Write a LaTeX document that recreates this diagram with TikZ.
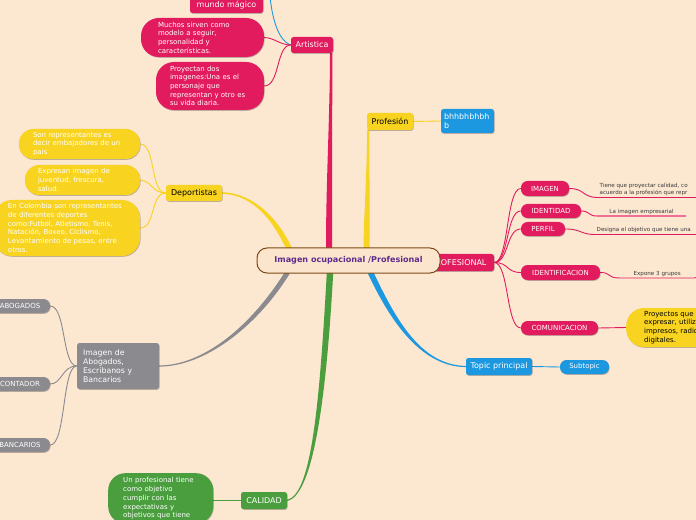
\documentclass[tikz,border=0pt]{standalone}
\usepackage{fontspec}
\setmainfont{DejaVu Sans}
\usetikzlibrary{calc,shadows}
\definecolor{bg}{HTML}{FCE7D1}
\definecolor{mpink}{HTML}{E21B5E}
\definecolor{lpink}{HTML}{EE6E95}
\definecolor{myel}{HTML}{F8D320}
\definecolor{mblue}{HTML}{1C98E1}
\definecolor{mgreen}{HTML}{4A9E3E}
\definecolor{mgray}{HTML}{8B8B8F}
\definecolor{brownb}{HTML}{7A4A18}
\definecolor{cfill}{HTML}{FCE5CD}
\definecolor{purp}{HTML}{5E2C8C}
\definecolor{leaftxt}{HTML}{3A3A3A}
\pgfdeclarelayer{back}
\pgfdeclarelayer{lines}
\pgfsetlayers{back,lines,main}
% tapered branch: #1 colour, #2 start, #3 ctrl1, #4 ctrl2, #5 end, #6 half width at start, #7 half width at end
\newcommand\taperline[7]{%
  \path (#2) coordinate (tA) (#3) coordinate (tC1) (#4) coordinate (tC2) (#5) coordinate (tB);
  \path ($(tA)!#6!90:(tC1)$) coordinate (tAp) ($(tA)!#6!-90:(tC1)$) coordinate (tAm)
        ($(tB)!#7!-90:(tC2)$) coordinate (tBp) ($(tB)!#7!90:(tC2)$) coordinate (tBm);
  \fill[#1] (tAp) .. controls ($(tC1)+(tAp)-(tA)$) and ($(tC2)+(tBp)-(tB)$) .. (tBp)
     -- (tBm) .. controls ($(tC2)+(tBm)-(tB)$) and ($(tC1)+(tAm)-(tA)$) .. (tAm) -- cycle;
}
\tikzset{
  shad/.style={drop shadow={shadow xshift=0.6pt, shadow yshift=-0.8pt, opacity=0.25, fill=black}},
  topic/.style={rectangle, rounded corners=2.5bp, inner sep=0pt, text=white, font=\fontsize{8}{9.5}\selectfont, shad},
  pill/.style={rectangle, rounded corners=6.5bp, inner sep=0pt, text=white, font=\fontsize{7}{8}\selectfont, shad},
  bubble/.style={rectangle, rounded corners=14bp, inner ysep=0pt, align=left, text=white, font=\fontsize{7}{8.7}\selectfont, shad},
  leaf/.style={inner xsep=1.5bp, inner ysep=1.5bp, align=left, text=leaftxt, font=\fontsize{5.6}{7}\selectfont},
  thinline/.style={line width=0.9bp},
}
\begin{document}
\begin{tikzpicture}[x=1bp,y=-1bp]
\useasboundingbox (0,0) rectangle (696,520);
\begin{pgfonlayer}{back}
\fill[bg] (0,0) rectangle (696,520);
\end{pgfonlayer}
\clip (0,0) rectangle (696,520);

% ---------- Artistica ----------
\node[topic, fill=mpink, minimum width=42bp, minimum height=16bp] (art) at (312,45) {Artistica};
\node[topic, fill=mpink, minimum width=73bp, minimum height=16bp] (mundo) at (226.5,5) {mundo mágico};
\node[bubble, fill=mpink, minimum height=39bp, inner xsep=17bp, text width=89bp, rounded corners=18bp] (muchos) at (202.5,37.5)
  {Muchos sirven como\\modelo a seguir,\\personalidad y\\características.};
\node[bubble, fill=mpink, minimum height=48bp, inner xsep=14bp, text width=80bp, rounded corners=18bp] (proy) at (210,86)
  {Proyectan dos\\imagenes:Una es el\\personaje que\\representan y otro es\\su vida diaria.};
\coordinate (mtop) at (270,-3);

% ---------- Deportistas ----------
\node[topic, fill=myel, text=black, minimum width=56bp, minimum height=16bp] (dep) at (194,193) {Deportistas};
\node[bubble, fill=myel, minimum height=30bp, inner xsep=14bp, text width=93bp] (son) at (79.5,144)
  {Son representantes es\\decir embajadores de un\\pais};
\node[bubble, fill=myel, minimum height=30bp, inner xsep=13bp, text width=89bp] (expr) at (82.5,180)
  {Expresan imagen de\\juventud, frescura,\\salud.};
\node[bubble, fill=myel, minimum height=56bp, inner xsep=14bp, text width=118bp, rounded corners=18bp] (colo) at (67,228)
  {En Colombia son representantes\\de diferentes deportes\\como:Futbol, Atletismo, Tenis,\\Natación, Boxeo, Ciclismo,\\Levantamiento de pesas, entre\\otros.};

% ---------- Profesion ----------
\node[topic, fill=myel, text=black, minimum width=46bp, minimum height=17bp] (prof) at (390,121.5) {Profesión};
\node[topic, fill=mblue, align=left, inner xsep=3bp, text width=47bp, minimum height=24bp] (bhh) at (467.5,121) {bhhbhbhbh\\b};

% ---------- PROFESIONAL ----------
\node[topic, fill=mpink, minimum width=71bp, minimum height=17bp] (pro) at (458.5,262.5) {PROFESIONAL};
\node[pill, fill=mpink, minimum width=48bp, minimum height=15bp] (img) at (545,188.5) {IMAGEN};
\node[pill, fill=mpink, minimum width=60bp, minimum height=14bp] (ident) at (551,211) {IDENTIDAD};
\node[pill, fill=mpink, minimum width=44bp, minimum height=14bp] (perf) at (543,229) {PERFIL};
\node[pill, fill=mpink, minimum width=79bp, minimum height=15bp] (idf) at (560.5,272.5) {IDENTIFICACION};
\node[pill, fill=mpink, minimum width=77bp, minimum height=14bp] (comu) at (559.5,328) {COMUNICACION};
\node[leaf, anchor=south west] (l1) at (598,197.5) {Tiene que proyectar calidad, co\\acuerdo a la profesión que repr};
\node[leaf, anchor=south, minimum width=89bp] (l2) at (641.5,216) {La imagen empresarial};
\node[leaf, anchor=south west] (l3) at (595,234.5) {Designa el objetivo que tiene una};
\node[leaf, anchor=south west, minimum width=74bp] (l4) at (620,278) {Expone 3 grupos};
\node[bubble, fill=myel, text=black, minimum height=39bp, inner xsep=18bp, text width=80bp, anchor=west, rounded corners=18bp] (comc) at (626,327.5)
  {Proyectos que\\expresar, utiliz\\impresos, radio\\digitales.};

% ---------- Topic principal ----------
\node[topic, fill=mblue, minimum width=66bp, minimum height=17bp] (tp) at (499,366.5) {Topic principal};
\node[pill, fill=mblue, minimum width=49bp, minimum height=14bp] (sub) at (584.5,367) {Subtopic};

% ---------- Abogados ----------
\node[topic, fill=mgray, align=left, inner xsep=6bp, text width=70bp, minimum height=46bp, font=\fontsize{7.8}{9.3}\selectfont] (gray) at (118,366)
  {Imagen de\\Abogados,\\Escribanos y\\Bancarios};
\node[pill, fill=mgray, minimum width=60bp, minimum height=14bp] (abo) at (20,306) {ABOGADOS};
\node[pill, fill=mgray, minimum width=60bp, minimum height=14bp] (cont) at (20,384) {CONTADOR};
\node[pill, fill=mgray, minimum width=60bp, minimum height=14bp] (banc) at (20,445) {BANCARIOS};

% ---------- Calidad ----------
\node[topic, fill=mgreen, minimum width=46bp, minimum height=17bp] (cal) at (264,500.5) {CALIDAD};
\node[bubble, fill=mgreen, anchor=north west, inner xsep=15bp, inner ysep=4bp, text width=75bp, rounded corners=17bp, font=\fontsize{7}{8.9}\selectfont] (calt) at (108,473)
  {Un profesional tiene\\como objetivo\\cumplir con las\\expectativas y\\objetivos que tiene};

% ---------- central ----------
\node[draw=brownb, line width=1bp, fill=cfill, rounded corners=10bp, minimum width=183bp, minimum height=25bp, text=purp,
      font=\bfseries\fontsize{8.1}{9.5}\selectfont] (ctr) at (348.5,260.5) {Imagen ocupacional /Profesional};

% ---------- connectors ----------
\begin{pgfonlayer}{lines}
\clip (0,0) rectangle (696,520);
\taperline{mpink}{$(art.south east)+(-2,0)$}{331,120}{329,180}{$(ctr.north)+(-19.5,1)$}{1.2bp}{3bp}
\taperline{myel}{$(prof.south west)+(1.5,0)$}{368,180}{367,210}{$(ctr.north)+(18,1)$}{1.2bp}{3bp}
\taperline{myel}{dep.east}{255,194}{277,222}{$(ctr.north west)+(33,2)$}{0.8bp}{2.8bp}
\taperline{mblue}{tp.west}{420,366}{392,318}{$(ctr.south)+(22,-1)$}{0.6bp}{2.8bp}
\taperline{mgray}{gray.east}{205,366}{255,325}{$(ctr.south west)+(31,-1)$}{0.6bp}{2.5bp}
\taperline{mgreen}{cal.east}{310,495}{322,420}{$(ctr.south)+(-18.5,-1)$}{0.6bp}{3.2bp}

\draw[mblue, thinline] (mtop) .. controls (272,15) and (277,40) .. (art.west);
\draw[mpink, thinline] (art.west) .. controls (280,45) and (275,38) .. (muchos.east);
\draw[mpink, thinline] (art.west) .. controls (276,45) and (280,86) .. (proy.east);

\draw[myel, thinline] (dep.west) .. controls (150,193) and (156,144) .. (son.east);
\draw[myel, thinline] (dep.west) .. controls (152,193) and (152,181) .. (expr.east);
\draw[myel, thinline] (dep.west) .. controls (150,193) and (156,228) .. (colo.east);

\draw[myel, thinline] (prof.east) -- (bhh.west);

\foreach \n in {img,ident,perf,idf,comu}
  \draw[mpink, thinline] (pro.east) .. controls (509,262.5) and (506,0 |- \n.west) .. (\n.west);
\draw[mpink, thinline] (img.east) .. controls (585,188.5) and (582,197.5) .. (l1.south west) -- ++(110,0);
\draw[mpink, thinline] (ident.east) .. controls (590,211) and (588,216) .. (l2.south west);
\draw[lpink, line width=1.4bp] (l2.south west) -- (l2.south east);
\draw[mpink, thinline] (perf.east) .. controls (582,229) and (580,234.5) .. (l3.south west) -- ++(110,0);
\draw[mpink, thinline] (idf.east) .. controls (612,272.5) and (606,278) .. (l4.south west) -- (l4.south east)
   .. controls ($(l4.south east)+(4,0)$) and ($(l4.south east)+(3,-4)$) .. ($(l4.south east)+(9,-6)$);
\draw[mpink, thinline] (comu.east) -- (comc.west);

\draw[mblue, thinline] (tp.east) -- (sub.west);

\draw[mgray, thinline] (gray.west) .. controls (62,366) and (66,306) .. (abo.east);
\draw[mgray, thinline] (gray.west) .. controls (62,366) and (62,384) .. (cont.east);
\draw[mgray, thinline] (gray.west) .. controls (62,366) and (66,445) .. (banc.east);

\draw[mgreen, thinline] (cal.west) -- (calt.east |- cal.west);
\end{pgfonlayer}
\end{tikzpicture}
\end{document}
